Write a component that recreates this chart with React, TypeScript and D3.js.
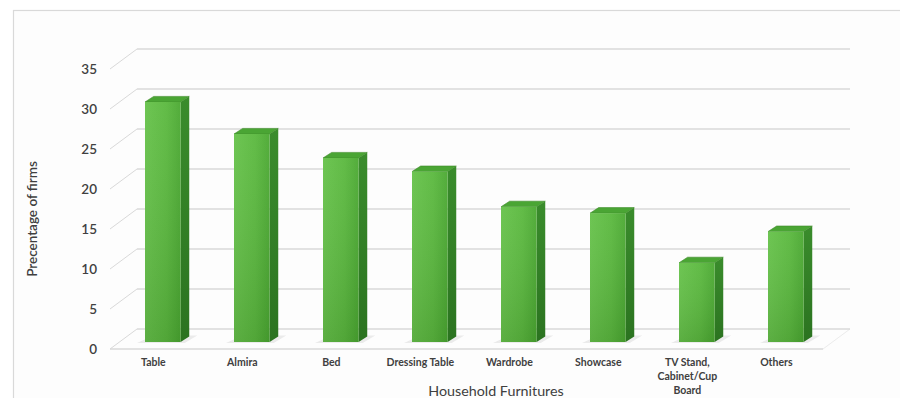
import React from "react";
import * as d3 from "d3";

const categories = [
  "Table",
  "Almira",
  "Bed",
  "Dressing Table",
  "Wardrobe",
  "Showcase",
  "TV Stand,\nCabinet/Cup\nBoard",
  "Others",
];
const values = [30, 26, 23, 21.3, 16.9, 16.1, 9.9, 13.8];
const yTicks = [0, 5, 10, 15, 20, 25, 30, 35];
const yTitle = "Precentage of firms";
const xTitle = "Household Furnitures";

const W = 900;
const H = 398;

export default function App() {
  // back wall scale
  const yBack = d3.scaleLinear().domain([0, 35]).range([329, 49]);
  const wallLeft = 137;
  const wallRight = 850;
  const depth = { dx: -27, dy: 20 }; // back -> front
  const x = d3
    .scaleBand<string>()
    .domain(categories)
    .range([118.3, 830.3])
    .paddingInner(0.6)
    .paddingOuter(0.3);
  const bw = x.bandwidth();
  // bar front face sits at depth fraction 0.65, back at 0.35
  const yBar = (v: number) => yBack(v) + depth.dy * 0.65;
  const bd = { dx: -depth.dx * 0.32, dy: -depth.dy * 0.28 };

  const grid = "#d9d9d9";
  const font = "Lato, 'Open Sans', sans-serif";

  return (
    <svg
      width={W}
      height={H}
      style={{ position: "absolute", left: 0, top: 0, background: "#fff" }}
    >
      <defs>
        <linearGradient id="front" x1="0" y1="0" x2="1" y2="0">
          <stop offset="0" stopColor="#66c24a" />
          <stop offset="0.6" stopColor="#5ab83e" />
          <stop offset="1" stopColor="#4aa831" />
        </linearGradient>
        <linearGradient id="frontV" x1="0" y1="0" x2="0" y2="1">
          <stop offset="0" stopColor="#ffffff" stopOpacity="0.05" />
          <stop offset="1" stopColor="#000000" stopOpacity="0.1" />
        </linearGradient>
        <linearGradient id="side" x1="0" y1="0" x2="0" y2="1">
          <stop offset="0" stopColor="#3a8c2c" />
          <stop offset="1" stopColor="#2b7320" />
        </linearGradient>
      </defs>

      {/* chart border */}
      <rect x={13.5} y={10.5} width={900} height={400} fill="#fdfdfd" stroke="#d9d9d9" strokeWidth={1.2} />

      {/* back wall gridlines + side wall diagonals */}
      {yTicks.map((t) => (
        <g key={"g" + t}>
          <line x1={wallLeft} x2={wallRight} y1={yBack(t)} y2={yBack(t)} stroke={grid} strokeWidth={1.3} />
          <line
            x1={wallLeft}
            y1={yBack(t)}
            x2={wallLeft + depth.dx}
            y2={yBack(t) + depth.dy}
            stroke={grid}
            strokeWidth={1}
          />
        </g>
      ))}
      {/* floor front edge */}
      <line
        x1={wallLeft + depth.dx}
        x2={wallRight + depth.dx}
        y1={yBack(0) + depth.dy}
        y2={yBack(0) + depth.dy}
        stroke={grid}
        strokeWidth={1.3}
      />
      <line
        x1={wallRight}
        y1={yBack(0)}
        x2={wallRight + depth.dx}
        y2={yBack(0) + depth.dy}
        stroke={grid}
        strokeWidth={0.8}
        opacity={0.6}
      />

      {/* y tick labels */}
      {yTicks.map((t) => (
        <text
          key={"t" + t}
          x={97}
          y={yBack(t) + depth.dy}
          dy="0.35em"
          textAnchor="end"
          fontFamily={font}
          fontSize={13.5}
          fontWeight={600}
          fill="#404040"
        >
          {t}
        </text>
      ))}

      {/* bars */}
      {categories.map((c, i) => {
        const x0 = x(c)!;
        const v = values[i];
        const yt = yBar(v);
        const yb = yBar(0);
        const top = `${x0},${yt} ${x0 + bw},${yt} ${x0 + bw + bd.dx},${yt + bd.dy} ${x0 + bd.dx},${yt + bd.dy}`;
        const side = `${x0 + bw},${yt} ${x0 + bw + bd.dx},${yt + bd.dy} ${x0 + bw + bd.dx},${yb + bd.dy} ${x0 + bw},${yb}`;
        const shadow = `${x0 - 8},${yb + 1} ${x0 + bw + 4},${yb + 1} ${x0 + bw + bd.dx + 8},${yb + bd.dy - 1} ${x0 + bd.dx},${yb + bd.dy - 1}`;
        return (
          <g key={c}>
            <polygon points={shadow} fill="#c8c8c8" opacity={0.35} />
            <polygon points={side} fill="url(#side)" />
            <polygon points={top} fill="#4aa534" stroke="#3d8a28" strokeWidth={0.6} />
            <rect x={x0} y={yt} width={bw} height={yb - yt} fill="url(#front)" />
            <rect x={x0} y={yt} width={bw} height={yb - yt} fill="url(#frontV)" />
          </g>
        );
      })}

      {/* category labels */}
      {categories.map((c) => {
        const cx = x(c)! + bw / 2 + depth.dx * 0.35;
        const lines = c.split("\n");
        return (
          <text
            key={"l" + c}
            x={cx}
            y={366}
            textAnchor="middle"
            fontFamily={font}
            fontSize={10.5}
            fontWeight={700}
            fill="#404040"
          >
            {lines.map((ln, k) => (
              <tspan key={k} x={cx} dy={k === 0 ? 0 : 14}>
                {ln}
              </tspan>
            ))}
          </text>
        );
      })}

      {/* axis titles */}
      <text
        x={496}
        y={396}
        textAnchor="middle"
        fontFamily={font}
        fontSize={14.3}
        fill="#404040"
      >
        {xTitle}
      </text>
      <text
        transform={`translate(37,219) rotate(-90)`}
        textAnchor="middle"
        fontFamily={font}
        fontSize={13.5}
        fontWeight={600}
        fill="#404040"
      >
        {yTitle}
      </text>
    </svg>
  );
}
